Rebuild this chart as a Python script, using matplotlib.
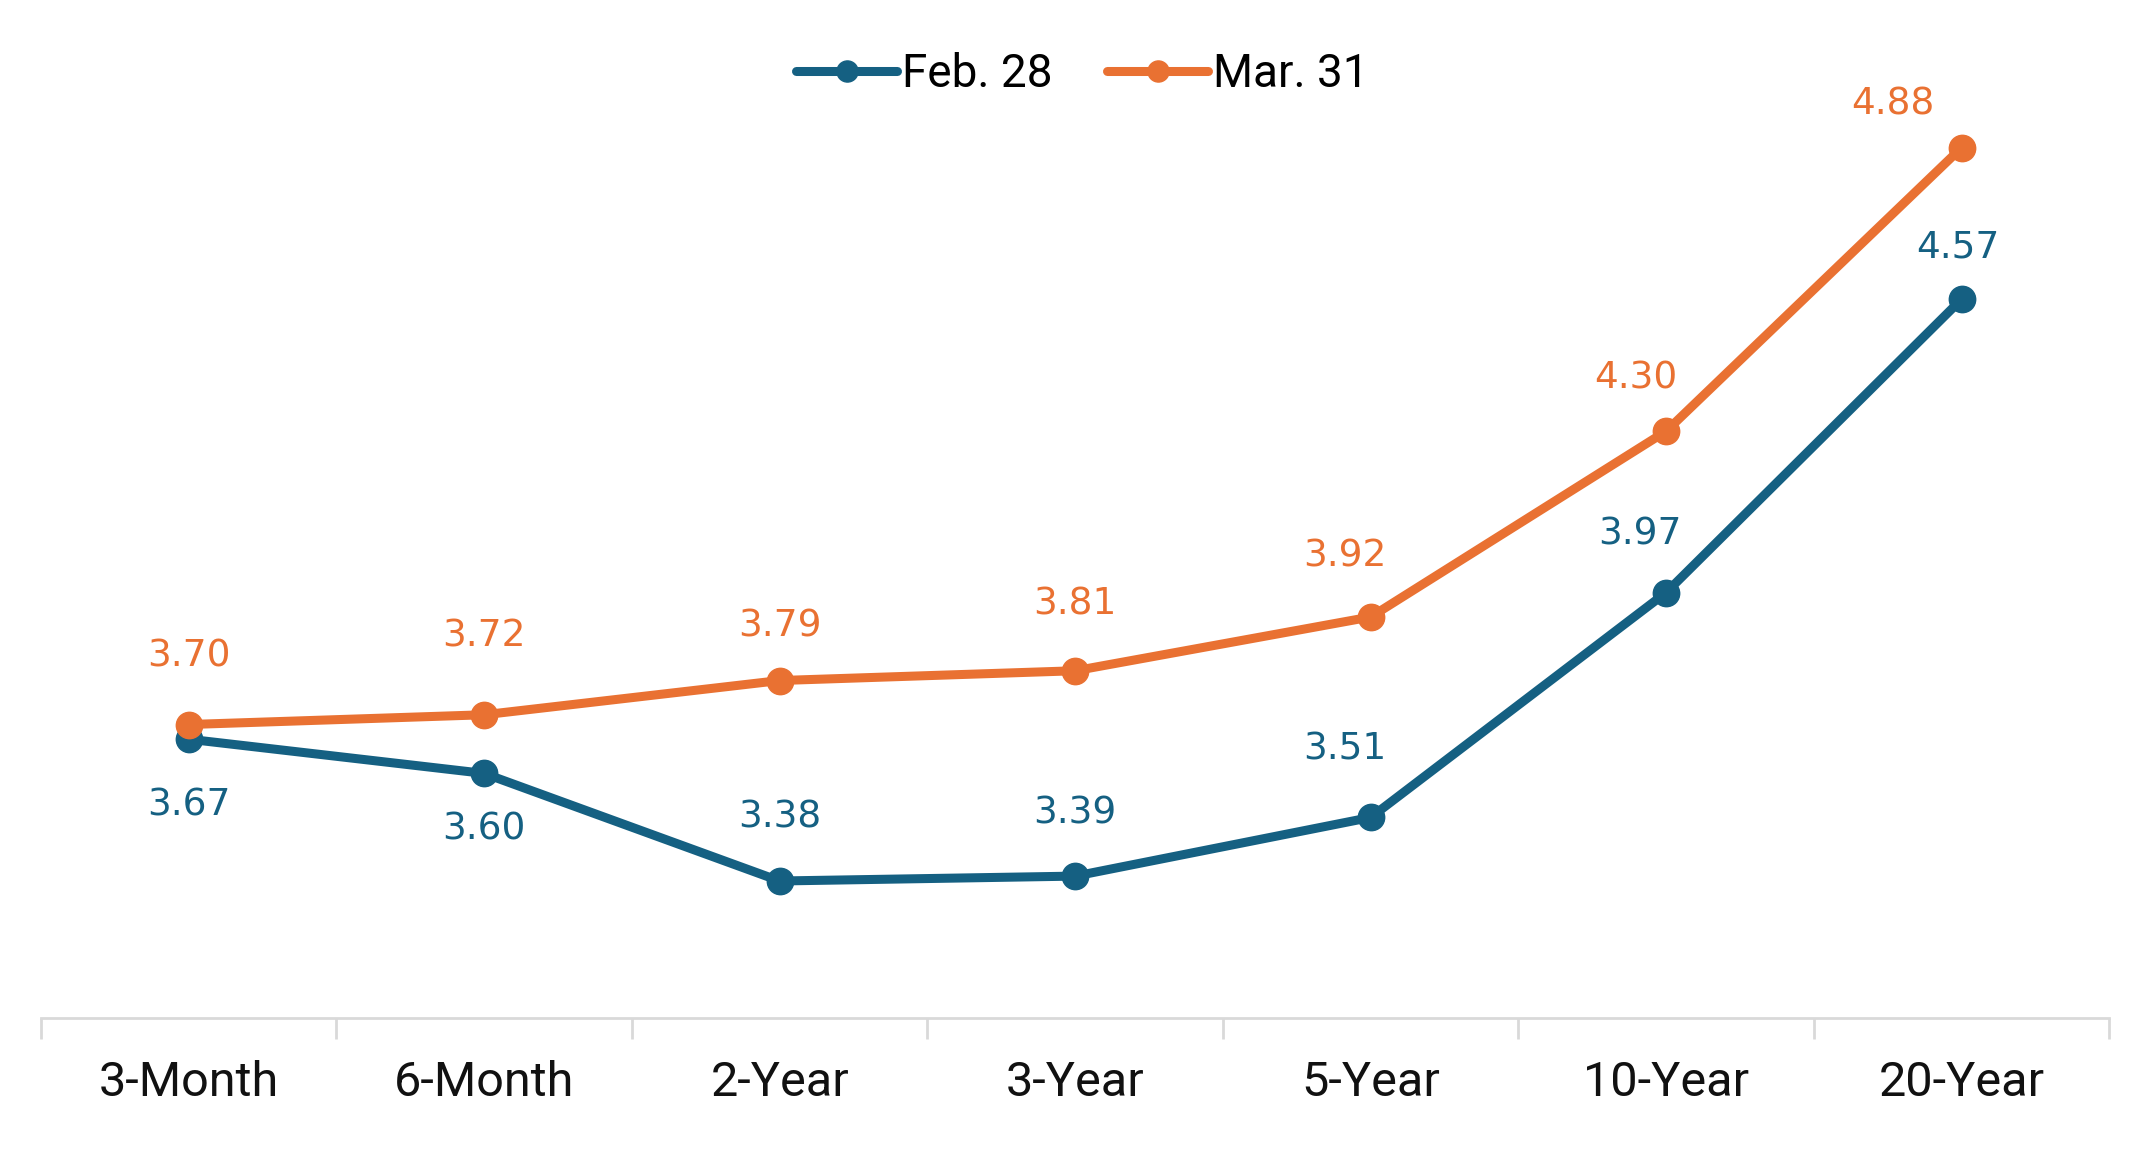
import matplotlib
matplotlib.use('Agg')
import matplotlib.pyplot as plt

# treasury yields by maturity
maturities = ['3-Month', '6-Month', '2-Year', '3-Year', '5-Year', '10-Year', '20-Year']
feb28 = [3.67, 3.60, 3.38, 3.39, 3.51, 3.97, 4.57]
mar31 = [3.70, 3.72, 3.79, 3.81, 3.92, 4.30, 4.88]

blue = '#156082'
orange = '#E97132'

# label placement (pixels) - excel nudges some of these sideways
feb_dx = [0, 0, 0, 0, -26, -26, -4]
feb_dy = [-66, -56, 63, 63, 68, 58, 52]
mar_dx = [0, 0, 0, 0, -26, -30, -69]
mar_dy = [68, 78, 54, 66, 60, 53, 43]

fig = plt.figure(figsize=(21.45, 11.6), dpi=100)
ax = fig.add_axes([0.0191, 0.1225, 0.9643, 0.843])

x = list(range(len(maturities)))
l1, = ax.plot(x, feb28, color=blue, lw=6.5, marker='o', ms=19, solid_capstyle='round', label='Feb. 28', zorder=3)
l2, = ax.plot(x, mar31, color=orange, lw=6.5, marker='o', ms=19, solid_capstyle='round', label='Mar. 31', zorder=3)

for i in x:
    ax.annotate('%.2f' % feb28[i], (i, feb28[i]), xytext=(feb_dx[i] * 0.72, feb_dy[i] * 0.72),
                textcoords='offset points', ha='center', va='center', fontsize=27,
                color=blue, family='DejaVu Sans')
    ax.annotate('%.2f' % mar31[i], (i, mar31[i]), xytext=(mar_dx[i] * 0.72, mar_dy[i] * 0.72),
                textcoords='offset points', ha='center', va='center', fontsize=27,
                color=orange, family='DejaVu Sans')

ax.set_xlim(-0.5, len(maturities) - 0.5)
ax.set_ylim(3.1, 5.1)
ax.set_yticks([])
for s in ['top', 'right', 'left']:
    ax.spines[s].set_visible(False)
ax.spines['bottom'].set_color('#D9D9D9')
ax.spines['bottom'].set_linewidth(2)

ax.set_xticks(x)
ax.set_xticklabels(maturities, fontsize=35, family='Roboto', color='#111111')
ax.tick_params(axis='x', which='major', length=0, pad=30)
ax.set_xticks([i - 0.5 for i in range(len(maturities) + 1)], minor=True)
ax.tick_params(axis='x', which='minor', length=15, width=2, color='#D9D9D9')

fig.legend(handles=[l1, l2], loc='center', bbox_to_anchor=(0.5045, 0.936), ncol=2, frameon=False,
           prop={'family': 'Roboto', 'size': 33}, handlelength=2.2, handletextpad=0.1,
           columnspacing=1.2, markerscale=0.8)

fig.savefig('out.png', dpi=100, facecolor='white')
